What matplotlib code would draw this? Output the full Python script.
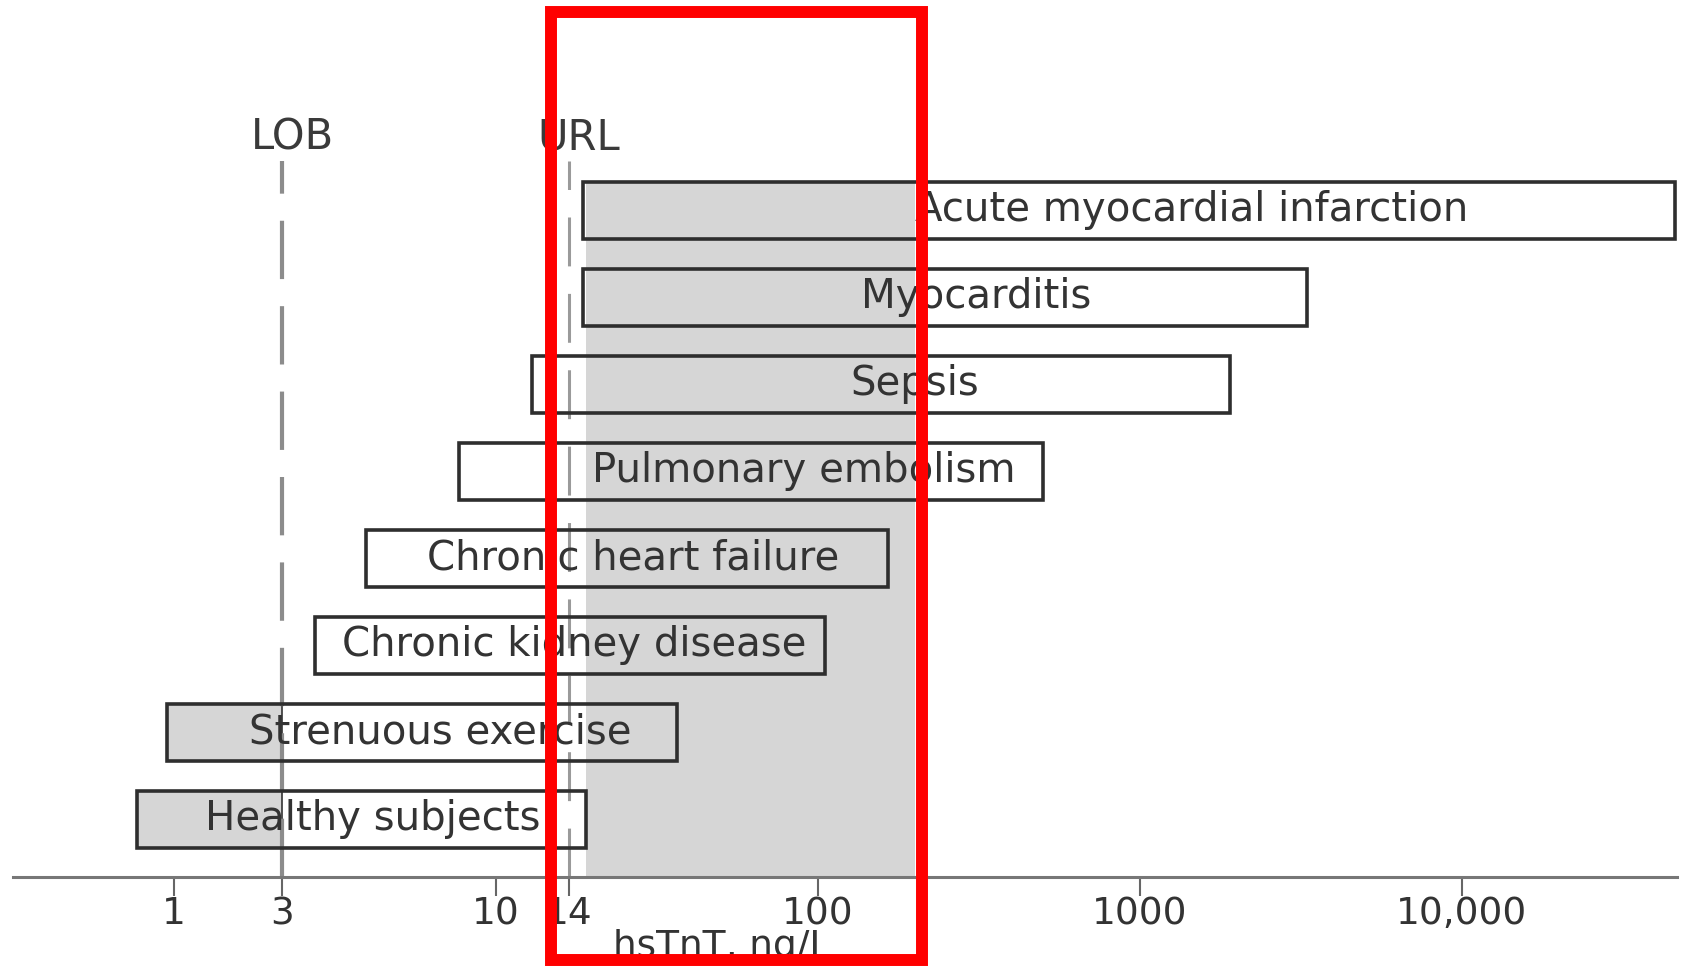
import numpy as np
import matplotlib.pyplot as plt
from matplotlib.patches import Rectangle

# hsTnT ranges per condition, ng/L (top row first)
conditions = ['Acute myocardial infarction', 'Myocarditis', 'Sepsis',
              'Pulmonary embolism', 'Chronic heart failure',
              'Chronic kidney disease', 'Strenuous exercise', 'Healthy subjects']
low = [15.6, 15.6, 11.8, 8.1, 4.8, 3.6, 0.95, 0.77]
high = [46000, 3300, 1900, 500, 165, 105, 33, 16]
label_at = [1445, 311, 200, 89.6, 23.3, 14.6, 7.3, 5.0]

lob = 3
url = 14
band = (16, 200)

tick_vals = [1, 3, 10, 14, 100, 1000, 10000]
tick_text = ['1', '3', '10', '14', '100', '1000', '10,000']

# the axis is drawn in decades, but 3 and 14 sit where the printed ticks put them
log_anchor = np.log10(tick_vals)
pos_anchor = np.array([0, 101 / 300, 1, 368 / 300, 2, 3, 4])


def forward(x):
    with np.errstate(divide='ignore', invalid='ignore'):
        L = np.log10(np.clip(x, 1e-12, None))
    return (np.interp(L, log_anchor, pos_anchor)
            + np.minimum(L - log_anchor[0], 0)
            + np.maximum(L - log_anchor[-1], 0))


def inverse(u):
    L = (np.interp(u, pos_anchor, log_anchor)
         + np.minimum(u - pos_anchor[0], 0)
         + np.maximum(u - pos_anchor[-1], 0))
    return 10 ** L


plt.rcParams['font.family'] = 'DejaVu Sans'

fig = plt.figure(figsize=(16.83, 9.68), dpi=100)
ax = fig.add_axes([12 / 1568, 1 - 817 / 902, 1550 / 1568, 817 / 902])
ax.set_xscale('function', functions=(forward, inverse))

n = len(conditions)
ys = np.arange(n)[::-1]
h = 0.654
y0 = -0.66

ax.set_xlim(inverse(-0.5), inverse(1400 / 300))
ax.set_ylim(y0, 9.418)

# shaded band behind the rows
ax.fill_betweenx([y0, ys[0] + h / 2], band[0], band[1],
                 color='#d6d6d6', lw=0, zorder=1)

# part of a range below the LOB is shaded
for y, lo in zip(ys, low):
    if lo < lob:
        ax.barh(y, lob - lo, left=lo, height=h, color='#d6d6d6',
                edgecolor='#333333', lw=1.2, zorder=1)

ax.vlines(lob, y0, 7.568, colors='#8c8c8c', lw=3, linestyles=(0, (14, 6.5)), zorder=2)
ax.vlines(url, y0, 7.568, colors='#9a9a9a', lw=2.2, linestyles=(0, (16, 9)), zorder=2)
ax.annotate('LOB', (lob, 7.839), xytext=(7, 0), textcoords='offset points',
            ha='center', va='center', fontsize=30, color='#3a3a3a')
ax.annotate('URL', (url, 7.839), xytext=(7, 0), textcoords='offset points',
            ha='center', va='center', fontsize=30, color='#3a3a3a')

ax.barh(ys, np.array(high) - np.array(low), left=low, height=h,
        fill=False, edgecolor='#2e2e2e', lw=2.6, zorder=3)
for y, name, x in zip(ys, conditions, label_at):
    ax.text(x, y, name, ha='center', va='center', fontsize=29,
            color='#333333', zorder=4)

for s in ['top', 'left', 'right']:
    ax.spines[s].set_visible(False)
ax.spines['bottom'].set_color('#777777')
ax.spines['bottom'].set_linewidth(2.2)
ax.set_yticks([])
ax.set_xticks(tick_vals, tick_text)
ax.xaxis.set_minor_locator(plt.NullLocator())
ax.tick_params(axis='x', direction='out', length=14, width=1.5, color='#666666',
               labelsize=27, labelcolor='#333333', pad=0)
ax.set_xlabel('hsTnT, ng/L', fontsize=27, color='#333333', va='baseline')
ax.xaxis.set_label_coords(660 / 1550, -0.0915)
ax.patch.set_alpha(0)

fig.add_artist(Rectangle((0.3274, 0.0083), 0.2204, 0.9793, transform=fig.transFigure,
                         fill=False, edgecolor='#ff0000', lw=8.6))

fig.savefig('out.png', dpi=100)
